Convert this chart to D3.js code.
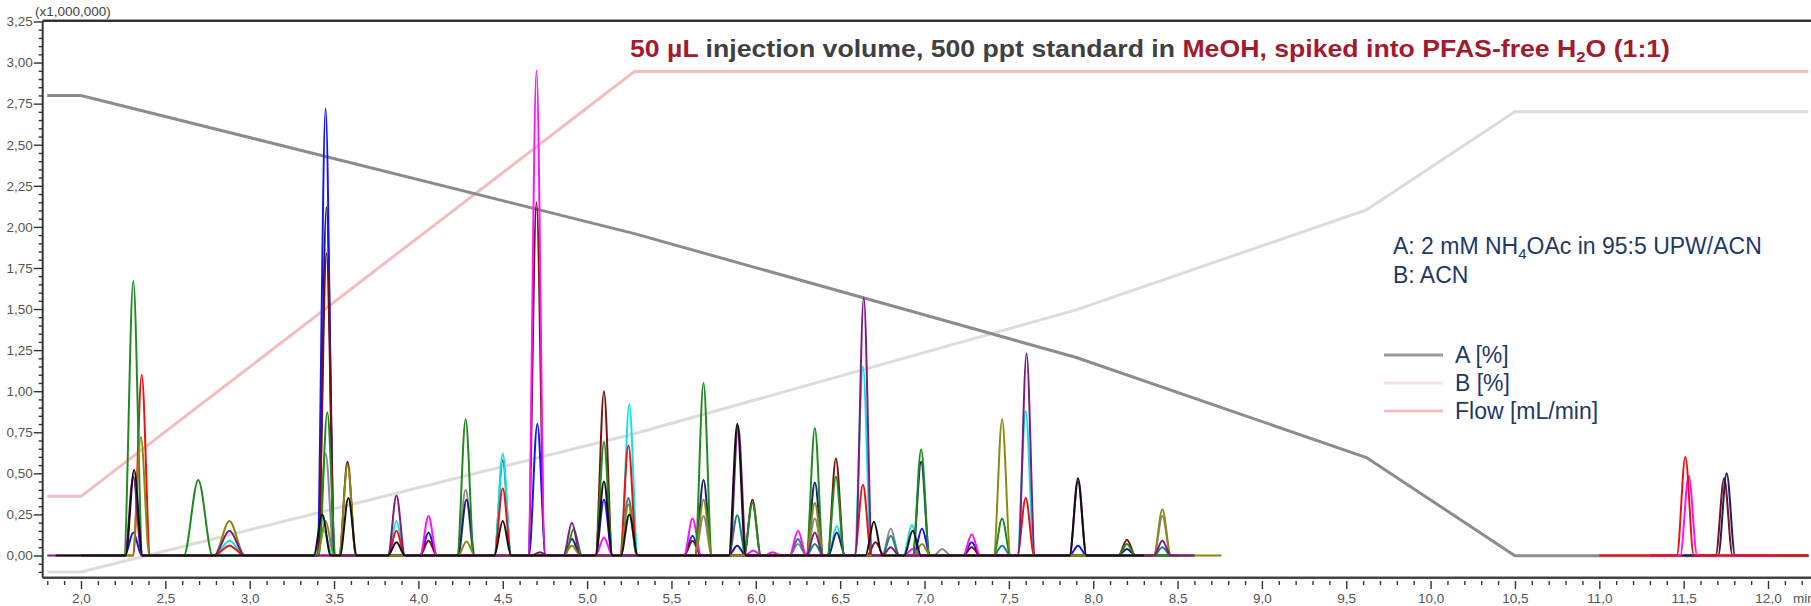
<!DOCTYPE html>
<html>
<head>
<meta charset="utf-8">
<script src="https://cdn.jsdelivr.net/npm/d3@7"></script>
<style>
  body { margin: 0; background: #fff; }
  svg { display: block; font-family: "Liberation Sans", Arial, sans-serif; }
</style>
</head>
<body>
<div id="chart"></div>
<script>
// axis ticks: retention time (min) and intensity (x1,000,000)
var xTicks = d3.range(4, 25).map(function(i) { return i / 2; });
var yTicks = d3.range(0, 14).map(function(i) { return i / 4; });

// pump program
var gradTime = [1.8, 2.0, 5.28, 7.9, 9.62, 10.5, 12.24];
var gradA = [100, 100, 71, 45, 24, 3.4, 3.4];
var gradB = [0, 0, 29, 55, 76, 96.6, 96.6];
var flowTime = [1.8, 2.0, 5.28, 12.24];
var flowRate = [0.2, 0.2, 0.6, 0.6];

// peaks per trace: [retention time, height, half base width (optional)]
var greenPeaks = [[2.31, 1.67, 0.055], [2.695, 0.46, 0.085], [3.46, 0.87], [4.28, 0.83], [4.92, 0.16], [5.10, 0.69],
  [5.69, 1.05], [5.98, 0.32], [6.35, 0.775], [6.475, 0.48], [6.98, 0.645], [7.46, 0.225], [8.20, 0.07]];
var redPeaks = [[2.36, 1.10], [2.88, 0.06, 0.09], [3.87, 0.15], [4.50, 0.41], [5.245, 0.67], [6.635, 0.43], [7.60, 0.35]];
var redLatePeaks = [[11.51, 0.60]];
var bluePeaks = [[2.31, 0.14], [3.45, 2.72], [4.06, 0.14], [4.705, 0.80], [5.10, 0.34], [5.625, 0.12], [6.985, 0.165],
  [7.28, 0.08], [7.91, 0.06]];
var navyPeaks = [[3.455, 2.12], [4.285, 0.34], [4.91, 0.10], [5.69, 0.46], [5.89, 0.06], [6.35, 0.445], [6.48, 0.14],
  [6.98, 0.57], [8.20, 0.04]];
var navyLatePeaks = [[11.755, 0.50]];
var blackPeaks = [[2.315, 0.52], [3.43, 0.25], [3.585, 0.35], [3.87, 0.08], [4.50, 0.21], [5.10, 0.45], [5.25, 0.25],
  [5.89, 0.80], [6.70, 0.205], [6.93, 0.15], [7.91, 0.47]];
var purplePeaks = [[2.31, 0.48], [2.88, 0.15, 0.09], [3.87, 0.365], [4.72, 0.02], [4.91, 0.20], [5.895, 0.79],
  [6.35, 0.14], [6.64, 1.57], [6.80, 0.05], [7.605, 1.23], [7.91, 0.45], [8.41, 0.09]];
var maroonPeaks = [[3.455, 1.84], [3.58, 0.57], [4.06, 0.09], [4.70, 2.15], [5.10, 1.00], [5.625, 0.09], [5.98, 0.34],
  [6.475, 0.59], [6.71, 0.08], [7.28, 0.05], [8.20, 0.096]];
var maroonLatePeaks = [[11.74, 0.47]];
var magentaPeaks = [[4.06, 0.24], [4.70, 2.95], [5.10, 0.11], [5.625, 0.225], [5.985, 0.03], [6.10, 0.02], [6.25, 0.15],
  [6.93, 0.04], [7.28, 0.13]];
var magentaLatePeaks = [[11.53, 0.486]];
var cyanPeaks = [[2.88, 0.09, 0.09], [3.44, 0.15], [3.87, 0.21], [4.50, 0.62], [5.25, 0.92], [6.48, 0.18], [6.635, 1.15],
  [6.925, 0.185], [7.60, 0.88]];
var tealPeaks = [[4.50, 0.58], [5.245, 0.35], [5.89, 0.245], [6.25, 0.10], [6.35, 0.07], [6.80, 0.12], [7.46, 0.06], [8.41, 0.05]];
var olivePeaks = [[2.355, 0.72], [2.88, 0.21, 0.09], [3.45, 0.21], [3.58, 0.55], [4.285, 0.085], [4.91, 0.06], [5.245, 0.31],
  [5.69, 0.34], [6.35, 0.32], [6.985, 0.07], [7.46, 0.83], [8.41, 0.28]];
var greyPeaks = [[3.45, 0.62], [4.28, 0.40], [5.69, 0.24], [6.25, 0.07], [6.35, 0.225], [6.80, 0.165], [7.105, 0.04], [8.41, 0.24]];

// trace windows (min)
var traces = [
  {peaks: greyPeaks, color: "#8a8a8a", from: 3.3, to: 8.6},
  {peaks: tealPeaks, color: "#1a8080", from: 3.8, to: 8.6},
  {peaks: cyanPeaks, color: "#10e0e8", from: 2.5, to: 7.8},
  {peaks: navyPeaks, color: "#1c1c7a", from: 3.1, to: 8.5},
  {peaks: bluePeaks, color: "#1515f0", from: 2.1, to: 8.1},
  {peaks: maroonPeaks, color: "#7a1010", from: 3.0, to: 8.5},
  {peaks: redPeaks, color: "#ee1111", from: 2.0, to: 7.9},
  {peaks: magentaPeaks, color: "#ff10ff", from: 3.9, to: 7.6},
  {peaks: greenPeaks, color: "#1f8a1f", from: 2.0, to: 8.55},
  {peaks: olivePeaks, color: "#8a8a10", from: 2.2, to: 8.76},
  {peaks: purplePeaks, color: "#7e1a80", from: 1.8, to: 8.6},
  {peaks: blackPeaks, color: "#111111", from: 1.85, to: 8.3},
  {peaks: maroonLatePeaks, color: "#7a1010", from: 11.3, to: 12.24},
  {peaks: navyLatePeaks, color: "#1c1c7a", from: 11.5, to: 12.0},
  {peaks: magentaLatePeaks, color: "#ff10ff", from: 11.3, to: 12.03},
  {peaks: redLatePeaks, color: "#ee1111", from: 11.0, to: 12.24}
];

var width = 1811, height = 606;
var plotLeft = 42.7, plotTop = 20.7, plotBottom = 577.7;

var x = d3.scaleLinear().domain([2, 12]).range([81, 1768]);
var y = d3.scaleLinear().domain([0, 3.25]).range([555.5, 21.5]);
// hidden secondary scales for the pump program
var yPct = d3.scaleLinear().domain([0, 100]).range([y(-0.10), y(2.80)]);
var yFlow = d3.scaleLinear().domain([0.2, 0.6]).range([y(0.36), y(2.945)]);

var svg = d3.select("#chart").append("svg")
    .attr("width", width)
    .attr("height", height);

svg.append("clipPath").attr("id", "plotclip")
  .append("rect")
    .attr("x", plotLeft).attr("y", plotTop)
    .attr("width", width - plotLeft).attr("height", plotBottom - plotTop);

var plot = svg.append("g").attr("clip-path", "url(#plotclip)");

// pump program lines
var gradLine = d3.line()
    .x(function(d) { return x(d[0]); })
    .y(function(d) { return d[1]; });

plot.append("path")
    .attr("d", gradLine(gradTime.map(function(t, i) { return [t, yPct(gradB[i])]; })))
    .attr("fill", "none").attr("stroke", "#dcdcd8").attr("stroke-width", 3);
plot.append("path")
    .attr("d", gradLine(flowTime.map(function(t, i) { return [t, yFlow(flowRate[i])]; })))
    .attr("fill", "none").attr("stroke", "#f4bcbc").attr("stroke-width", 3);
plot.append("path")
    .attr("d", gradLine(gradTime.map(function(t, i) { return [t, yPct(gradA[i])]; })))
    .attr("fill", "none").attr("stroke", "#8c8c8c").attr("stroke-width", 3);

// chromatogram traces
var peakLine = d3.line()
    .x(function(d) { return x(d[0]); })
    .y(function(d) { return y(d[1]); })
    .curve(d3.curveMonotoneX);

function tracePoints(tr) {
  var pts = [[tr.from, 0]];
  tr.peaks.slice().sort(function(a, b) { return a[0] - b[0]; }).forEach(function(p) {
    var w = p[2] || 0.05;
    pts.push([p[0] - w, 0], [p[0], p[1]], [p[0] + w, 0]);
  });
  pts.push([tr.to, 0]);
  return pts;
}

plot.selectAll(".trace")
  .data(traces)
  .enter().append("path")
    .attr("class", "trace")
    .attr("d", function(d) { return peakLine(tracePoints(d)); })
    .attr("fill", "none")
    .attr("stroke", function(d) { return d.color; })
    .attr("stroke-width", 2)
    .attr("stroke-linejoin", "round");

// axes
var fmtY = function(d) { return d3.format(".2f")(d).replace(".", ","); };
var fmtX = function(d) { return d3.format(".1f")(d).replace(".", ","); };

var yMinor = d3.range(-2, 66).filter(function(i) { return i % 5 !== 0; }).map(function(i) { return i / 20; });
var xMinor = d3.range(18, 123).filter(function(i) { return i % 5 !== 0; }).map(function(i) { return i / 10; });

svg.append("g")
    .attr("transform", "translate(" + plotLeft + ",0)")
    .call(d3.axisLeft(y).tickValues(yTicks).tickSize(9).tickPadding(1).tickFormat(fmtY));
svg.append("g")
    .attr("transform", "translate(" + plotLeft + ",0)")
    .call(d3.axisLeft(y).tickValues(yMinor).tickSize(4).tickFormat(""));

svg.append("g")
    .attr("transform", "translate(0,581)")
    .call(d3.axisBottom(x).tickValues(xTicks).tickSize(8).tickPadding(4).tickFormat(fmtX));
svg.append("g")
    .attr("transform", "translate(0,581)")
    .call(d3.axisBottom(x).tickValues(xMinor).tickSize(4).tickFormat(""));

svg.selectAll(".domain").remove();
svg.selectAll(".tick line").attr("stroke", "#333").attr("stroke-width", 1.4);
svg.selectAll(".tick text").attr("fill", "#555").attr("font-size", "13.5px")
    .attr("font-family", "'Liberation Sans', Arial, sans-serif");

// frame
svg.append("line")
    .attr("x1", plotLeft).attr("x2", plotLeft).attr("y1", plotTop).attr("y2", plotBottom)
    .attr("stroke", "#333").attr("stroke-width", 2);
svg.append("line")
    .attr("x1", plotLeft).attr("x2", width).attr("y1", plotTop).attr("y2", plotTop)
    .attr("stroke", "#333").attr("stroke-width", 2.5);
svg.append("line")
    .attr("x1", plotLeft).attr("x2", width).attr("y1", plotBottom).attr("y2", plotBottom)
    .attr("stroke", "#444").attr("stroke-width", 2.5);

svg.append("text")
    .attr("x", 35).attr("y", 15.5)
    .attr("font-size", "13.5px").attr("fill", "#444")
    .text("(x1,000,000)");
svg.append("text")
    .attr("x", 1793).attr("y", 603)
    .attr("font-size", "13.5px").attr("fill", "#555")
    .text("min");

// title
var title = svg.append("text")
    .attr("x", 630).attr("y", 57)
    .attr("font-family", "'Liberation Sans Narrow', 'Arial Narrow', 'Liberation Sans', sans-serif")
    .attr("font-weight", "bold").attr("font-size", "24px")
    .attr("textLength", 1040).attr("lengthAdjust", "spacingAndGlyphs");
title.append("tspan").attr("fill", "#a31a2f").text("50 µL");
title.append("tspan").attr("fill", "#404040").text(" injection volume, 500 ppt standard in ");
title.append("tspan").attr("fill", "#a31a2f").text("MeOH, spiked into PFAS-free H");
title.append("tspan").attr("fill", "#a31a2f").attr("font-size", "15px").attr("dy", 5).text("2");
title.append("tspan").attr("fill", "#a31a2f").attr("dy", -5).text("O (1:1)");

// eluent description
var desc = svg.append("g").attr("fill", "#1f3864").attr("font-size", "23px");
var l1 = desc.append("text").attr("x", 1393).attr("y", 254);
l1.append("tspan").text("A: 2 mM NH");
l1.append("tspan").attr("font-size", "15px").attr("dy", 5).text("4");
l1.append("tspan").attr("dy", -5).text("OAc in 95:5 UPW/ACN");
desc.append("text").attr("x", 1393).attr("y", 282.5).text("B: ACN");

// legend
var legendNames = ["A [%]", "B [%]", "Flow [mL/min]"];
var legendColors = ["#999999", "#fbe0e6", "#f5bcbc"];
var legend = svg.append("g").attr("transform", "translate(1384,355)");
var item = legend.selectAll("g")
  .data(legendNames)
  .enter().append("g")
    .attr("transform", function(d, i) { return "translate(0," + (i * 28) + ")"; });
item.append("line")
    .attr("x1", 0).attr("x2", 59)
    .attr("stroke", function(d, i) { return legendColors[i]; })
    .attr("stroke-width", 3);
item.append("text")
    .attr("x", 71).attr("y", 8)
    .attr("font-size", "23px").attr("fill", "#1f3864")
    .text(function(d) { return d; });
</script>
</body>
</html>
